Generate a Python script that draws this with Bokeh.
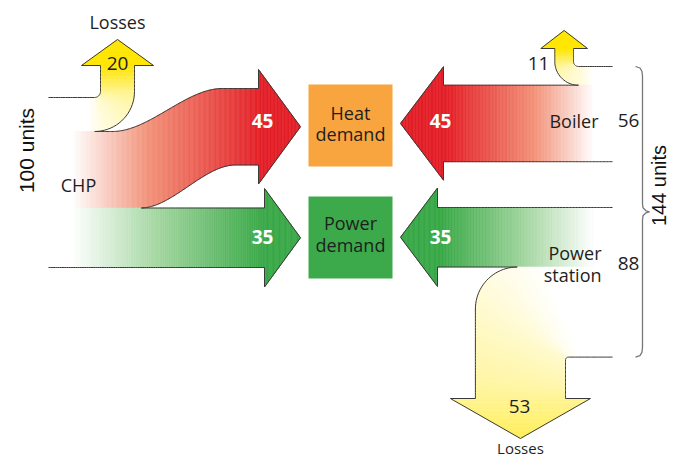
import math
import numpy as np
from bokeh.plotting import figure
from bokeh.models import Range1d
from bokeh.embed import file_html
from bokeh.resources import INLINE
from bokeh.core.properties import value

# ---------------- data ----------------
source_names = ["CHP", "Boiler", "Power station"]
source_totals = [100, 56, 88]
chp_flows = [20, 45, 35]        # losses, heat, power
boiler_flows = [11, 45]         # losses, heat
station_flows = [35, 53]        # power, losses
all_sources_total = 144
demand_names = ["Heat demand", "Power demand"]
loss_label = "Losses"
unit_word = "units"

# ---------------- layout ----------------
U = 1.7
W, H = 670, 459
X0, Y0 = 0, 0
FONT = "Open Sans"
UNIT_FONT = "Liberation Sans"

p = figure(width=W, height=H, x_range=Range1d(X0, X0 + W), y_range=Range1d(Y0 + H, Y0),
           output_backend="svg", toolbar_location=None, min_border=0,
           x_axis_location=None, y_axis_location=None)
p.grid.visible = False
p.outline_line_color = None
p.background_fill_color = "white"


def hex2rgb(h):
    return tuple(int(h[i:i + 2], 16) for i in (1, 3, 5))


def grad(stops):
    st = [(pos, hex2rgb(c)) for pos, c in stops]

    def f(t):
        t = min(max(t, 0.0), 1.0)
        for (p0, c0), (p1, c1) in zip(st, st[1:]):
            if t <= p1:
                u = (t - p0) / (p1 - p0) if p1 > p0 else 0
                return "#%02x%02x%02x" % tuple(round(a + (b - a) * u) for a, b in zip(c0, c1))
        return "#%02x%02x%02x" % st[-1][1]
    return f


def clamp(t):
    return min(max(t, 0.0), 1.0)


def ss(t):
    t = clamp(t)
    return t * t * (3 - 2 * t)


red_g = grad([(0, "#ffffff"), (0.4, "#f29279"), (1.0, "#e31e26")])
green_g = grad([(0, "#ffffff"), (0.45, "#a3d6a0"), (1.0, "#38a846")])
yellow_g = grad([(0, "#ffffff"), (0.5, "#fff6a6"), (1.0, "#ffe500")])


def line_pts(a, b, n):
    return [(a[0] + (b[0] - a[0]) * t, a[1] + (b[1] - a[1]) * t) for t in np.linspace(0, 1, n)]


def arc_pts(c, r, a0, a1, n):
    return [(c[0] + r * math.cos(a), c[1] + r * math.sin(a)) for a in np.linspace(a0, a1, n)]


def join(*parts):
    out = list(parts[0])
    for prt in parts[1:]:
        out.extend(prt[1:])
    return out


fx, fy, fc = [], [], []
ox, oy = [], []


def add_band(A, B, shade):
    for i in range(len(A) - 1):
        q = [A[i], A[i + 1], B[i + 1], B[i]]
        cx = sum(pt[0] for pt in q) / 4
        cy = sum(pt[1] for pt in q) / 4
        fx.append([pt[0] for pt in q])
        fy.append([pt[1] for pt in q])
        fc.append(shade(cx, cy))


def add_head(base_a, base_b, direction, overhang, length, shade, m=30):
    mx, my = (base_a[0] + base_b[0]) / 2, (base_a[1] + base_b[1]) / 2
    dx, dy = base_a[0] - base_b[0], base_a[1] - base_b[1]
    L = math.hypot(dx, dy)
    nx, ny = dx / L, dy / L
    half = L / 2 + overhang
    A, B = [], []
    for k in range(m + 1):
        f = k / m
        cx, cy = mx + direction[0] * length * f, my + direction[1] * length * f
        h = half * (1 - f)
        A.append((cx + nx * h, cy + ny * h))
        B.append((cx - nx * h, cy - ny * h))
    add_band(A, B, shade)
    return [base_a, A[0], A[-1], B[0], base_b]


def add_outline(pts):
    ox.append([pt[0] for pt in pts])
    oy.append([pt[1] for pt in pts])


# ---------- CHP (left) ----------
xs = 48
chp_top = 97
yl = chp_top + chp_flows[0] * U
yh = yl + chp_flows[1] * U
yp = yh + chp_flows[2] * U

# losses (up)
r = 6; xv = 100; hb = 65
c = (xv - r, chp_top - r)
w = chp_flows[0] * U
A = join(line_pts((xs, chp_top), (c[0], chp_top), 20), arc_pts(c, r, math.pi / 2, 0, 20),
         line_pts((xv, c[1]), (xv, hb), 20))
B = join(line_pts((xs, yl), (c[0], yl), 20), arc_pts(c, r + w, math.pi / 2, 0, 20),
         line_pts((xv + w, c[1]), (xv + w, hb), 20))
chp_loss_shade = lambda x, y: yellow_g(clamp((127 - y) / 62) * clamp((x - 88) / 14))
add_band(A, B, chp_loss_shade)
ho = add_head(A[-1], B[-1], (0, -1), 19, 26, chp_loss_shade)
add_outline(A + ho[1:-1] + list(reversed(B[19:])))
chp_loss_base = ((A[-1][0] + B[-1][0]) / 2, hb)

# heat (S-curve)
shift = 43
hx = 258
xsmp = np.linspace(xs, hx, 170)
A = [(x, yl - shift * ss((x - 112) / 110)) for x in xsmp]
B = [(x, yh - shift * ss((x - 140) / 95)) for x in xsmp]
red_l = lambda x, y: red_g((x - 72) / (262 - 72))
add_band(A, B, red_l)
ho = add_head(A[-1], B[-1], (1, 0), 19, 42, red_l)
add_outline([pt for pt in A if pt[0] >= 94] + ho[1:-1] + list(reversed([pt for pt in B if pt[0] >= 140])))

# power (straight)
px = 264
xsmp = np.linspace(xs, px, 120)
A = [(x, yh) for x in xsmp]
B = [(x, yp) for x in xsmp]
green_l = lambda x, y: green_g((x - 72) / (265 - 72))
add_band(A, B, green_l)
ho = add_head(A[-1], B[-1], (1, 0), 19.5, 36, green_l)
add_outline([pt for pt in A if pt[0] >= 140] + ho[1:-1] + list(reversed(B)))

# ---------- Boiler (right top) ----------
xr = 612
b_top = 66
bl = b_top + boiler_flows[0] * U
bh = bl + boiler_flows[1] * U

r = 5; xv = 573; hb = 48
c = (xv + r, b_top - r)
w = boiler_flows[0] * U
A = join(line_pts((xr, b_top), (c[0], b_top), 20), arc_pts(c, r, math.pi / 2, math.pi, 20),
         line_pts((xv, c[1]), (xv, hb), 20))
B = join(line_pts((xr, bl), (c[0], bl), 20), arc_pts(c, r + w, math.pi / 2, math.pi, 20),
         line_pts((xv - w, c[1]), (xv - w, hb), 20))
b_loss_shade = lambda x, y: yellow_g(clamp((84 - y) / 36) * clamp((592 - x) / 14))
add_band(A, B, b_loss_shade)
ho = add_head(A[-1], B[-1], (0, -1), 14, 18, b_loss_shade)
add_outline(A + ho[1:-1] + list(reversed(B[19:])))
b_loss_corner = c

bx = 443
xsmp = np.linspace(xr, bx, 120)
A = [(x, bl) for x in xsmp]
B = [(x, bh) for x in xsmp]
red_r = lambda x, y: red_g((593 - x) / (593 - 445))
add_band(A, B, red_r)
ho = add_head(A[-1], B[-1], (-1, 0), 18.5, 43, red_r)
add_outline([pt for pt in A if pt[0] <= b_loss_corner[0]] + ho[1:-1] + list(reversed(B)))

# ---------- Power station (right bottom) ----------
s_top = 207
sp = s_top + station_flows[0] * U
sl = sp + station_flows[1] * U
w = station_flows[1] * U

xvi = 565; ri = 3
ci = (xvi + ri, sl + ri)
xvo = xvi - w; R = 42
co = (xvo + R, sp + R)
hb = 398

sx = 437
xsmp = np.linspace(xr, sx, 120)
A = [(x, s_top) for x in xsmp]
B = [(x, sp) for x in xsmp]
green_r = lambda x, y: green_g((593 - x) / (593 - 440))
add_band(A, B, green_r)
ho = add_head(A[-1], B[-1], (-1, 0), 19.5, 37, green_r)
add_outline(A + ho[1:-1] + list(reversed([pt for pt in B if pt[0] <= co[0]])))

A = join(line_pts((xr, sp), (co[0], sp), 20), arc_pts(co, R, -math.pi / 2, -math.pi, 24),
         line_pts((xvo, co[1]), (xvo, hb), 30))
B = join(line_pts((xr, sl), (ci[0], sl), 20), arc_pts(ci, ri, -math.pi / 2, -math.pi, 24),
         line_pts((xvi, ci[1]), (xvi, hb), 30))
s_loss_shade = lambda x, y: yellow_g(((y - 290) + 1.0 * (540 - x)) / 230)
add_band(A, B, s_loss_shade)
ho = add_head(A[-1], B[-1], (0, 1), 25, 40, s_loss_shade)
add_outline(A[19:] + ho[1:-1] + list(reversed(B)))
s_loss_base = ((xvo + xvi) / 2, hb)

# ---------- draw fills and outlines ----------
p.patches(fx, fy, fill_color=fc, line_color=fc, line_width=0.6)
p.multi_line(ox, oy, line_color="#3a3a3a", line_width=1.0, line_join="round")

# demand boxes
box_l, box_r = 308, 392
p.quad(left=[box_l, box_l], right=[box_r, box_r], top=[84, 196], bottom=[166, 278],
       fill_color=["#f8a53f", "#3caa4a"], line_color=None)

# brace
bxv, btip = 642, 649
bmid = (b_top + sl) / 2
brace = [(635, b_top), (639.5, b_top + 1.5), (641.5, b_top + 5), (bxv, b_top + 10),
         (bxv, bmid - 8), (bxv + 0.5, bmid - 4), (645.5, bmid - 1), (btip, bmid),
         (645.5, bmid + 1), (bxv + 0.5, bmid + 4), (bxv, bmid + 8),
         (bxv, sl - 10), (641.5, sl - 5), (639.5, sl - 1.5), (635, sl)]
p.line([q[0] for q in brace], [q[1] for q in brace], line_color="#777777", line_width=1.3)


# ---------- texts ----------
def txt(x, y, s, size="18px", color="#1e1e1e", style="normal", align="center", angle=0.0, font=FONT):
    p.text(x=[x], y=[y], text=[s], text_font=value(font), text_font_size=size,
           text_color=color, text_font_style=style, text_align=align,
           text_baseline="middle", angle=angle)


txt(117, 21, loss_label)
txt(chp_loss_base[0], 63, str(chp_flows[0]), size="19px")
txt(26, 150, f"{source_totals[0]} {unit_word}", size="21px", color="#111111",
    angle=math.pi / 2, font=UNIT_FONT)
txt(78, 184, source_names[0])
txt(262, 120, str(chp_flows[1]), size="19px", color="white", style="bold")
txt(262, 236, str(chp_flows[2]), size="19px", color="white", style="bold")

hd = demand_names[0].split(" ")
pd_ = demand_names[1].split(" ")
txt(350, 112, hd[0]); txt(350, 133, hd[1])
txt(350, 222, pd_[0]); txt(350, 244, pd_[1])

txt(440, 120, str(boiler_flows[1]), size="19px", color="white", style="bold")
txt(440, 236, str(station_flows[0]), size="19px", color="white", style="bold")
txt(538, 63, str(boiler_flows[0]), size="19px")
txt(598, 120, source_names[1], align="right")
txt(628, 120, str(source_totals[1]), size="19px")
ps = source_names[2].split(" ")
txt(601, 252, ps[0], align="right"); txt(601, 274, ps[1], align="right")
txt(628, 263, str(source_totals[2]), size="19px")
txt(658, 185, f"{all_sources_total} {unit_word}", size="20px", color="#111111",
    angle=math.pi / 2, font=UNIT_FONT)
txt(519, 406, str(station_flows[1]), size="19px")
txt(s_loss_base[0], 447, loss_label, size="15px")

open("out.html", "w").write(file_html(p, INLINE))
